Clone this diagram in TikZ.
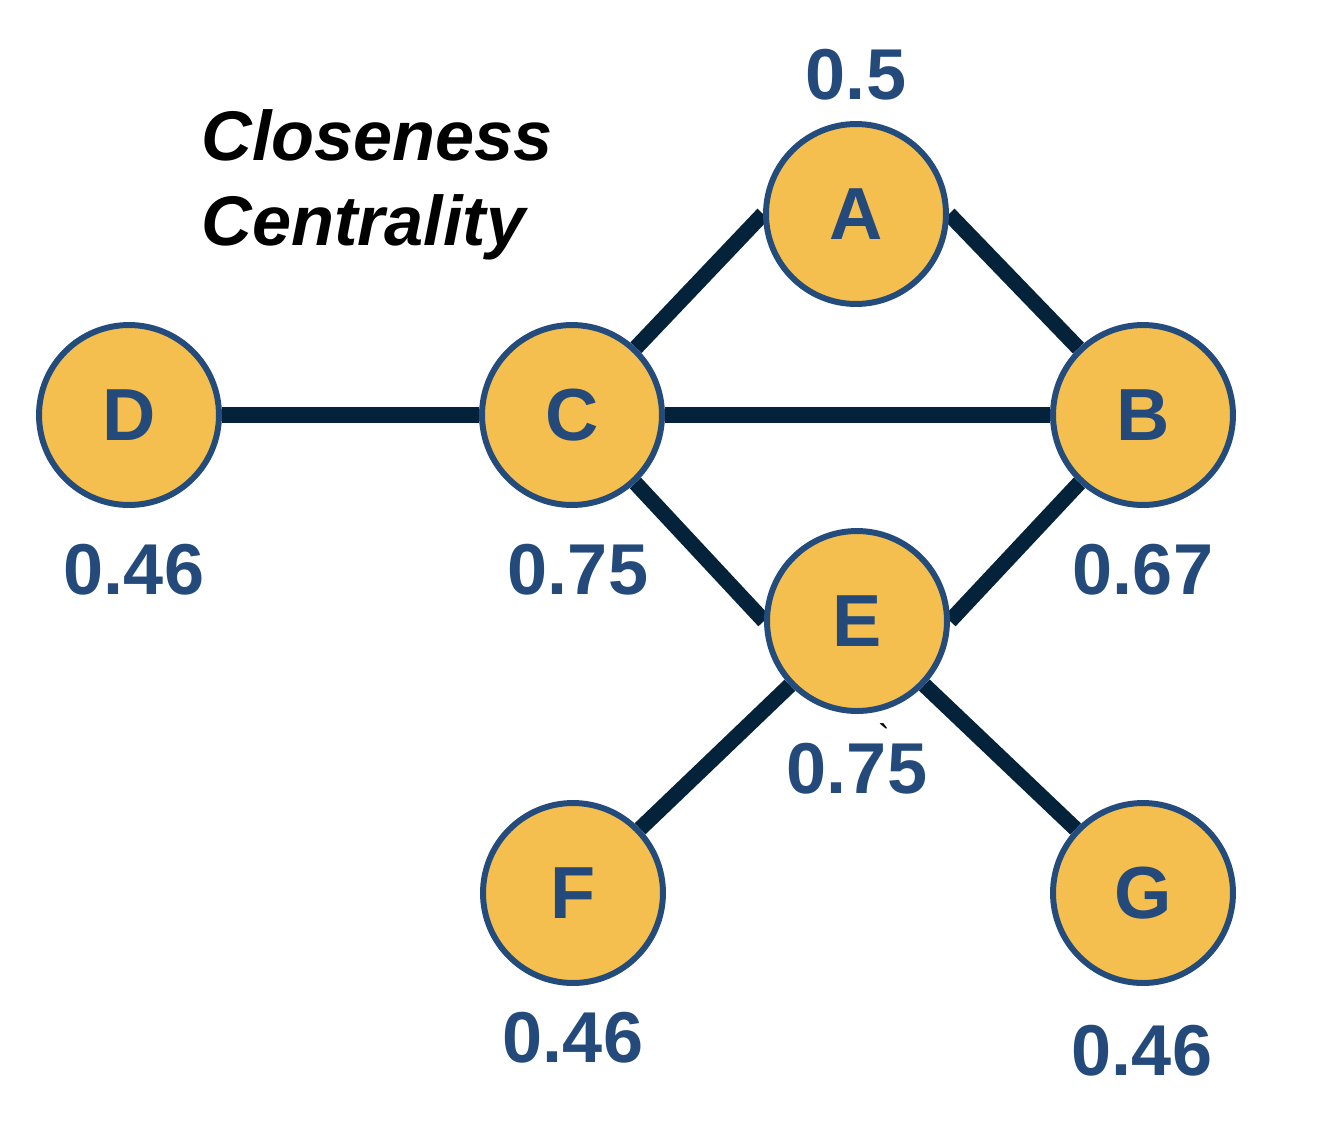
\documentclass[tikz,border=0pt]{standalone}
\usepackage{fontspec}
\setmainfont{Liberation Sans}
\pgfdeclarelayer{bg}
\pgfsetlayers{bg,main}
\definecolor{nodefill}{HTML}{F4BF4F}
\definecolor{nodeline}{HTML}{234B7C}
\definecolor{edgecol}{HTML}{04233A}
\definecolor{labcol}{HTML}{234A7A}
\tikzset{
  vert/.style={circle, draw=nodeline, fill=nodefill, line width=3.4pt,
    minimum size=3.6cm, inner sep=0pt, text=labcol,
    font=\fontsize{42}{48}\selectfont\bfseries},
  edge/.style={draw=edgecol, line width=8.8pt},
  val/.style={text=labcol, inner sep=0pt, font=\fontsize{41}{48}\selectfont\bfseries},
  ttl/.style={text=black, inner sep=0pt, anchor=base west,
    font=\fontsize{40}{46}\selectfont\bfseries\itshape}
}
\begin{document}
\begin{tikzpicture}[x=0.02cm,y=-0.02cm]
\useasboundingbox (0,0) rectangle (1340,1144);
\node[vert] (A) at (856,214) {A};
\node[vert] (B) at (1143,415) {B};
\node[vert] (C) at (572,415) {C};
\node[vert] (D) at (129,415) {D};
\node[vert] (E) at (857,621) {E};
\node[vert] (F) at (573,893) {F};
\node[vert] (G) at (1143,893) {G};
\begin{pgfonlayer}{bg}
\draw[edge] (C) -- (A.west);
\draw[edge] (A.east) -- (B);
\draw[edge] (D) -- (C);
\draw[edge] (C) -- (B);
\draw[edge] (C) -- (E.west);
\draw[edge] (B) -- (E.east);
\draw[edge] (E) -- (F);
\draw[edge] (E) -- (G);
\end{pgfonlayer}
\node[val] (vA) at (856,75) {0.5};
\node[val] (vD) at (134,570) {0.46};
\node[val] (vC) at (578,570) {0.75};
\node[val] (vB) at (1143,570) {0.67};
\node[val] (vE) at (857,769) {0.75};
\node[val] (vF) at (573,1038) {0.46};
\node[val] (vG) at (1142,1051) {0.46};
\node[ttl] (t1) at (201,160) {Closeness};
\node[ttl] (t2) at (201,245) {Centrality};
\node[inner sep=0pt, anchor=base, font=\fontsize{20}{24}\selectfont] (mark) at (884,729) {\raisebox{-0.59em}[0.14em][0pt]{\textasciigrave}};
\end{tikzpicture}
\end{document}
